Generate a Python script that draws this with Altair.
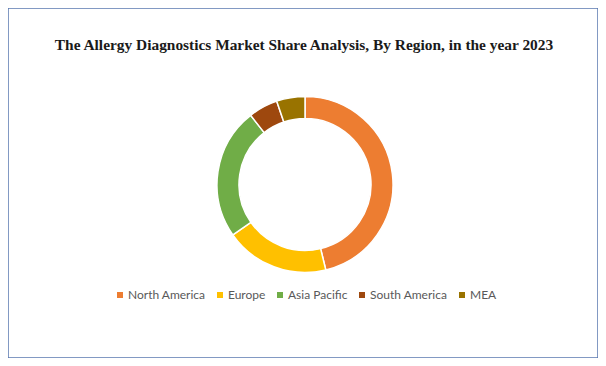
import altair as alt
import pandas as pd

regions = ["North America", "Europe", "Asia Pacific", "South America", "MEA"]
shares = [46.2, 19.1, 24.1, 5.4, 5.2]
colors = ["#ED7D31", "#FFC000", "#70AD47", "#9E480E", "#997300"]
title_text = "The Allergy Diagnostics Market Share Analysis, By Region, in the year 2023"

df = pd.DataFrame({"region": regions, "share": shares, "idx": list(range(len(regions)))})

W, H = 590, 350

arc = alt.Chart(df).mark_arc(outerRadius=88, innerRadius=66, stroke="white", strokeWidth=1.5).encode(
    theta=alt.Theta("share:Q", stack=True),
    order=alt.Order("idx:O", sort="ascending"),
    color=alt.Color(
        "region:N",
        scale=alt.Scale(domain=regions, range=colors),
        sort=regions,
        legend=alt.Legend(
            title=None,
            orient="none",
            direction="horizontal",
            legendX=106,
            legendY=281,
            symbolType="square",
            symbolSize=36,
            symbolStrokeWidth=0,
            labelFont="Lato",
            labelFontSize=12,
            labelColor="#595959",
            columnPadding=8,
            labelOffset=2,
        ),
    ),
    x=alt.value(297),
    y=alt.value(176.5),
)

title = alt.Chart(pd.DataFrame({"t": [title_text]})).mark_text(
    font="Liberation Serif", fontSize=15.4, fontWeight="bold", color="#1a1a1a", align="center", baseline="alphabetic"
).encode(text="t:N", x=alt.value(296), y=alt.value(42))

chart = (
    alt.layer(arc, title)
    .properties(width=W, height=H, padding=0, autosize=alt.AutoSizeParams(type="none"))
    .configure_view(stroke="#5A78B0", strokeWidth=1.5)
)

chart.save("out.html", embed_options={"renderer": "svg", "actions": False})
